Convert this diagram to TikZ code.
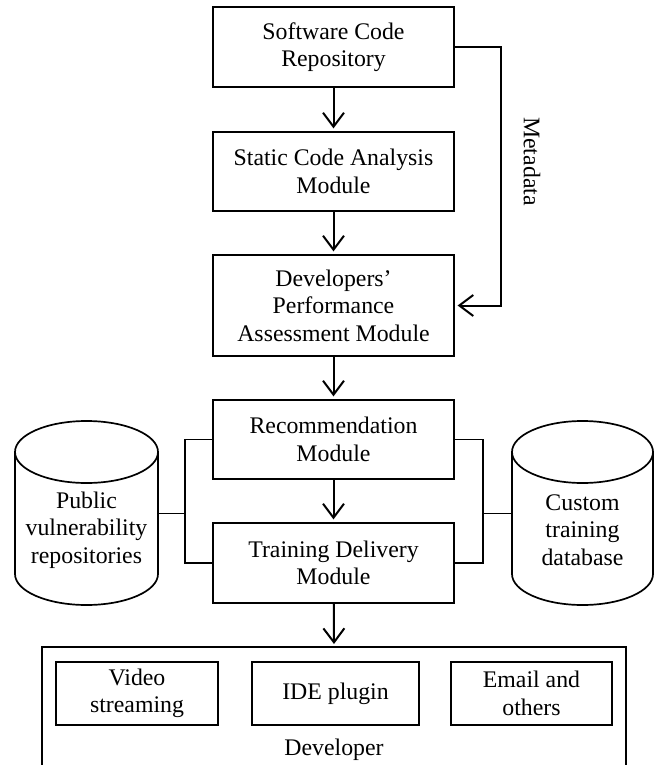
\documentclass[tikz,border=0pt]{standalone}
\usepackage{fontspec}
\setmainfont{Liberation Serif}
\usetikzlibrary{arrows.meta}
\tikzset{
  box/.style={draw, line width=1.2pt, minimum width=241pt, inner sep=0pt, align=center,
    font=\fontsize{23.8}{27.5}\selectfont},
  subbox/.style={draw, line width=1.2pt, minimum height=63pt, inner sep=0pt, align=center,
    font=\fontsize{23.8}{27.5}\selectfont},
  txt/.style={inner sep=0pt, align=center, font=\fontsize{23.8}{27.5}\selectfont},
  flow/.style={-{Straight Barb[length=14pt,width=21pt]}, line width=2pt, shorten >=3pt},
  link/.style={line width=1.6pt},
  cyl/.style={line width=1.7pt}
}
\begin{document}
\begin{tikzpicture}[x=1pt,y=-1pt]
\useasboundingbox (0,0) rectangle (654,765);
% main column
\node[box, minimum height=80pt]  (scr) at (333.5,47)    {Software Code\\Repository};
\node[box, minimum height=79pt]  (sca) at (333.5,171.5) {Static Code Analysis\\Module};
\node[box, minimum height=101pt] (dev) at (333.5,305.5) {Developers’\\Performance\\Assessment Module};
\node[box, minimum height=79pt]  (rec) at (333.5,439.5) {Recommendation\\Module};
\node[box, minimum height=80pt]  (tdm) at (333.5,563)   {Training Delivery\\Module};
% arrows
\draw[flow] (scr) -- (sca);
\draw[flow] (sca) -- (dev);
\draw[flow] (dev) -- (rec);
\draw[flow] (rec) -- (tdm);
% metadata
\coordinate (mcorner) at (501,47);
\draw[flow] (scr.east) -- (mcorner) |- (dev.east);
\node[txt, rotate=-90] (meta) at (532,161.5) {Metadata};
% cylinders
\draw[cyl] (86.5,452) ellipse[x radius=71.5, y radius=31];
\draw[cyl] (15,452) -- (15,574) arc[start angle=180, end angle=0, x radius=71.5, y radius=31] -- (158,452);
\node[txt] (pub) at (86.5,530) {Public\\vulnerability\\repositories};
\coordinate (pubE) at (158,513.5);
\draw[cyl] (582.5,452) ellipse[x radius=70.5, y radius=31];
\draw[cyl] (512,452) -- (512,574) arc[start angle=180, end angle=0, x radius=70.5, y radius=31] -- (653,452);
\node[txt] (cust) at (582.5,530) {Custom\\training\\database};
\coordinate (custW) at (512,513.5);
% side connectors
\coordinate (lj) at (185,513.5);
\coordinate (rj) at (483,513.5);
\draw[link] (rec.west) -| (lj) |- (tdm.west);
\draw[link] (pubE) -- (lj);
\draw[link] (rec.east) -| (rj) |- (tdm.east);
\draw[link] (custW) -- (rj);
% developer container
\coordinate (devtop) at (334,647);
\draw[line width=1.2pt] (42,766) -- (42,647) -- (626,647) -- (626,766);
\draw[flow] (tdm) -- (devtop);
\node[subbox, minimum width=162pt] (video) at (137,693.5)   {Video\\streaming};
\node[subbox, minimum width=167pt] (ide)   at (335.5,693.5) {IDE plugin};
\node[subbox, minimum width=161pt] (email) at (531.5,693.5) {Email and\\others};
\node[txt] (devlabel) at (334,750) {Developer};
\end{tikzpicture}
\end{document}
